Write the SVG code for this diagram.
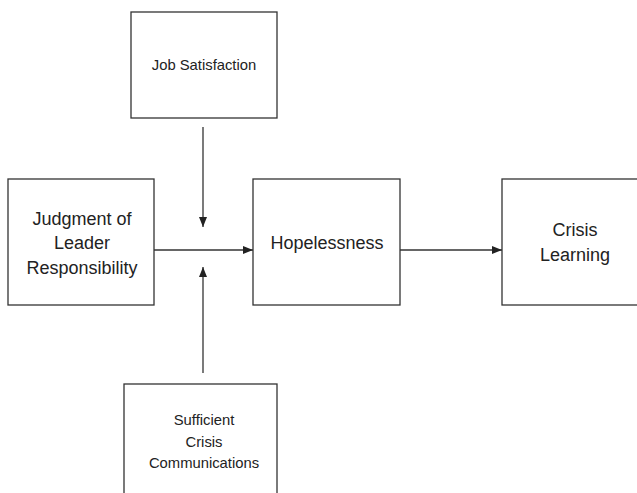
<svg xmlns="http://www.w3.org/2000/svg" width="637" height="493" viewBox="0 0 637 493">
<style>
.box{fill:#fff;stroke:#333;stroke-width:1.3}
.t{font-family:"Liberation Sans",Arial,sans-serif;fill:#222;text-anchor:middle}
.big{font-size:18px}
.sm{font-size:14.8px}
.c{stroke:#333;stroke-width:1.3;fill:none}
</style>
<defs>
<marker id="ah" markerWidth="10" markerHeight="8" refX="10" refY="4" orient="auto" markerUnits="userSpaceOnUse">
<path d="M0,0 L10,4 L0,8 z" fill="#222"/>
</marker>
</defs>
<rect width="637" height="493" fill="#fff"/>
<g id="connectors">
<line class="c" x1="154" y1="250" x2="253" y2="250" marker-end="url(#ah)"/>
<line class="c" x1="400" y1="250" x2="502" y2="250" marker-end="url(#ah)"/>
<line class="c" x1="203" y1="127" x2="203" y2="227" marker-end="url(#ah)"/>
<line class="c" x1="203" y1="373" x2="203" y2="267" marker-end="url(#ah)"/>
</g>
<g id="judgment">
<rect class="box" x="8" y="179" width="146" height="126"/>
<text class="t big" x="82" y="225">Judgment of</text>
<text class="t big" x="82" y="249">Leader</text>
<text class="t big" x="82" y="274">Responsibility</text>
</g>
<g id="job">
<rect class="box" x="131" y="12" width="146" height="106"/>
<text class="t sm" x="204" y="70">Job Satisfaction</text>
</g>
<g id="hopelessness">
<rect class="box" x="253" y="179" width="147" height="126"/>
<text class="t big" x="327" y="249">Hopelessness</text>
</g>
<g id="learning">
<rect class="box" x="502" y="179" width="146" height="126"/>
<text class="t big" x="575" y="236">Crisis</text>
<text class="t big" x="575" y="261">Learning</text>
</g>
<g id="communications">
<rect class="box" x="124" y="384" width="153" height="120"/>
<text class="t sm" x="204" y="425">Sufficient</text>
<text class="t sm" x="204" y="447">Crisis</text>
<text class="t sm" x="204" y="468">Communications</text>
</g>
</svg>
